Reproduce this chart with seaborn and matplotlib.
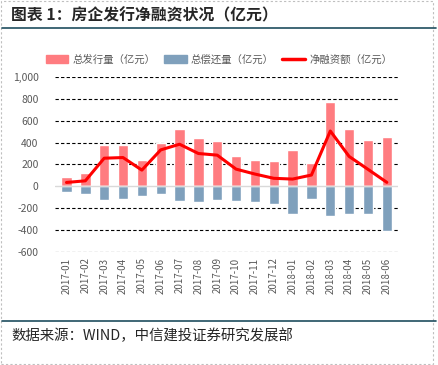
import numpy as np
import matplotlib
matplotlib.use("Agg")
import matplotlib.pyplot as plt
from matplotlib.patches import Patch, Rectangle
from matplotlib.lines import Line2D
from matplotlib.ticker import FuncFormatter
import seaborn as sns

# ---------------------------------------------------------
# Data (亿元)
# ---------------------------------------------------------
months = ["2017-01", "2017-02", "2017-03", "2017-04", "2017-05", "2017-06",
          "2017-07", "2017-08", "2017-09", "2017-10", "2017-11", "2017-12",
          "2018-01", "2018-02", "2018-03", "2018-04", "2018-05", "2018-06"]
issued = [85, 125, 380, 380, 240, 400, 520, 440, 410, 280, 245, 230,
          335, 210, 775, 525, 420, 450]
repaid = [-55, -70, -122, -118, -91, -70, -134, -140, -122, -131, -140, -161,
          -258, -120, -276, -258, -258, -409]
net = [35, 50, 257, 263, 148, 333, 385, 300, 285, 157, 112, 73,
       66, 103, 506, 273, 155, 36]

labels = ["总发行量（亿元）", "总偿还量（亿元）", "净融资额（亿元）"]
title = "图表 1：房企发行净融资状况（亿元）"
source = "数据来源：WIND，中信建投证券研究发展部"

pink = "#FF7C80"
blue = "#7FA0BC"
red = "#FF0000"
grey_text = "#595959"

sns.set_style("white")
plt.rcParams["font.family"] = ["Noto Sans CJK SC", "DejaVu Sans"]

fig = plt.figure(figsize=(4.38, 3.65), dpi=100)
ax = fig.add_axes([0.126, 0.31, 0.783, 0.479])

x = np.arange(len(months))
sns.barplot(x=x, y=issued, color=pink, width=0.55, saturation=1, ax=ax, zorder=2)
sns.barplot(x=x, y=repaid, color=blue, width=0.55, saturation=1, ax=ax, zorder=2)
sns.lineplot(x=x, y=net, color=red, linewidth=2.2, ax=ax, zorder=3)

ax.set_xlim(-0.6, len(months) - 0.4)
ax.set_ylim(-600, 1000)
ax.set_yticks(range(-600, 1001, 200))
ax.yaxis.set_major_formatter(FuncFormatter(lambda v, p: f"{int(v):,}"))
ax.set_xticks(x)
ax.set_xticklabels(months, rotation=90)
ax.tick_params(axis="y", labelsize=7.5, colors=grey_text, length=0, pad=12)
ax.tick_params(axis="x", labelsize=7, colors=grey_text, length=0, pad=4)

# dashed gridlines, solid grey zero line
for v in range(-600, 1001, 200):
    if v != 0:
        ax.axhline(v, color="black", linestyle=(0, (3, 2)), linewidth=0.8, zorder=1)
ax.axhline(0, color="#D9D9D9", linewidth=1.0, zorder=2.5)

for s in ax.spines.values():
    s.set_visible(False)
ax.set_xlabel("")
ax.set_ylabel("")

handles = [Patch(color=pink), Patch(color=blue), Line2D([], [], color=red, linewidth=2.5)]
fig.legend(handles, labels, loc="center", bbox_to_anchor=(0.5, 0.837), ncol=3,
           frameon=False, fontsize=7.5, labelcolor=grey_text, handlelength=2.2,
           handleheight=0.9, columnspacing=0.8, handletextpad=0.4)

# title, separators, footer
fig.text(0.025, 1 - 15 / 365, title, fontsize=11.4, fontweight="bold", va="center", ha="left")
fig.add_artist(Line2D([0.005, 0.995], [1 - 28 / 365] * 2, color="#1F4E5F", linewidth=1.2))
fig.add_artist(Line2D([0.005, 0.995], [1 - 321 / 365] * 2, color="#1F4E5F", linewidth=1.2))
fig.text(0.025, 1 - 336 / 365, source, fontsize=10.4, style="italic", va="center", ha="left")

# dashed page border
fig.add_artist(Rectangle((0.003, 0.003), 0.986, 0.994, transform=fig.transFigure,
                         fill=False, edgecolor="#BFBFBF", linestyle=(0, (2, 2)), linewidth=0.8))

fig.savefig("out.png", dpi=100)
